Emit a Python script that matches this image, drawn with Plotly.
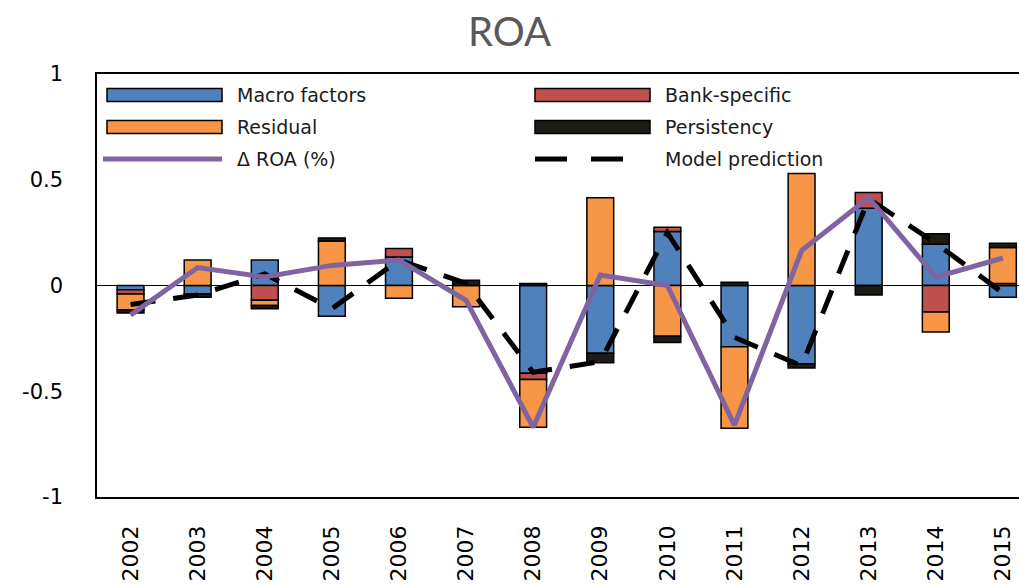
import plotly.graph_objects as go

years = ["2002", "2003", "2004", "2005", "2006", "2007", "2008",
         "2009", "2010", "2011", "2012", "2013", "2014", "2015"]
macro = [-0.02, -0.04, 0.12, -0.145, 0.135, None, -0.415, -0.32, 0.255, -0.29, -0.37, 0.365, 0.195, -0.055]
bank = [-0.02, None, -0.07, None, 0.04, None, -0.03, None, 0.02, None, None, 0.075, -0.125, 0.01]
residual = [-0.075, 0.12, -0.025, 0.21, -0.06, -0.10, -0.225, 0.415, -0.24, -0.385, 0.53, None, -0.095, 0.17]
persistency = [-0.015, -0.015, -0.015, 0.015, None, 0.025, 0.01, -0.045, -0.03, 0.015, -0.02, -0.045, 0.05, 0.02]
droa = [-0.14, 0.085, 0.04, 0.095, 0.12, -0.07, -0.67, 0.05, 0.0, -0.66, 0.165, 0.415, 0.04, 0.13]
model = [-0.09, -0.045, 0.055, -0.11, 0.12, 0.01, -0.41, -0.36, 0.25, -0.245, -0.38, 0.41, 0.2, -0.035]

y_ticks = [1, 0.5, 0, -0.5, -1]
y_tick_text = ["1", "0.5", "0", "-0.5", "-1"]

C_MACRO = "#4F81BD"
C_BANK = "#C0504D"
C_RES = "#F79646"
C_PERS = "#1E1B14"
C_DROA = "#8064A2"
C_MODEL = "#000000"
DASH = "25px,18px"

W, H = 1019, 587
L, T, B = 97, 74, 90
PW = W - L
PH = H - T - B

def px(x):
    return (x - L) / PW

def py(y):
    return (H - B - y) / PH

xs = list(range(len(years)))
fig = go.Figure()
for name, vals, col in [("Macro factors", macro, C_MACRO),
                        ("Bank-specific", bank, C_BANK),
                        ("Residual", residual, C_RES),
                        ("Persistency", persistency, C_PERS)]:
    fig.add_trace(go.Bar(x=xs, y=vals, name=name, marker_color=col,
                         marker_line_color="#000000", marker_line_width=1.5))

fig.add_trace(go.Scatter(x=xs, y=model, name="Model prediction", mode="lines",
                         line=dict(color=C_MODEL, width=5, dash=DASH)))
fig.add_trace(go.Scatter(x=xs, y=droa, name="\u0394 ROA (%)", mode="lines",
                         line=dict(color=C_DROA, width=5)))

# custom legend
shapes = []
annotations = []
legend_font = dict(family="DejaVu Sans", size=19, color="#1a1a1a")
rows = [95, 127, 159]
items = [
    ("rect", C_MACRO, "Macro factors", 0, 0),
    ("rect", C_BANK, "Bank-specific", 0, 1),
    ("rect", C_RES, "Residual", 1, 0),
    ("rect", C_PERS, "Persistency", 1, 1),
    ("line", C_DROA, "\u0394 ROA (%)", 2, 0),
    ("dash", C_MODEL, "Model prediction", 2, 1),
]
cols = [(107, 222, 235), (535, 650, 663)]
for kind, col, label, r, c in items:
    x0, x1, xt = cols[c]
    yc = rows[r]
    if kind == "rect":
        shapes.append(dict(type="rect", xref="paper", yref="paper",
                           x0=px(x0), x1=px(x1), y0=py(yc + 6.5), y1=py(yc - 6.5),
                           fillcolor=col, line=dict(color="#000000", width=1.5)))
    elif kind == "line":
        shapes.append(dict(type="line", xref="paper", yref="paper",
                           x0=px(x0 - 4), x1=px(x1), y0=py(yc), y1=py(yc),
                           line=dict(color=col, width=5)))
    else:
        shapes.append(dict(type="line", xref="paper", yref="paper",
                           x0=px(x0), x1=px(x0 + 88), y0=py(yc), y1=py(yc),
                           line=dict(color=col, width=5, dash="32px,24px")))
    annotations.append(dict(text=label, xref="paper", yref="paper",
                            x=px(xt), y=py(yc), xanchor="left", yanchor="middle",
                            showarrow=False, font=legend_font))

fig.update_layout(
    width=W, height=H,
    margin=dict(l=L, r=0, t=T, b=B, autoexpand=False),
    paper_bgcolor="white", plot_bgcolor="white",
    barmode="relative", bargap=0.6,
    showlegend=False,
    title=dict(text="ROA", x=0.5, xref="container", xanchor="center",
               y=1 - 32 / H, yref="container", yanchor="middle",
               font=dict(family="Lato", size=40, color="#595959")),
    shapes=shapes, annotations=annotations,
)
fig.update_xaxes(range=[-0.5, 13.24], tickmode="array", tickvals=xs, ticktext=years,
                 tickangle=-90, ticks="", ticklabelstandoff=18, automargin=False,
                 tickfont=dict(family="DejaVu Sans", size=22, color="#000000"),
                 showline=True, linecolor="#000000", linewidth=1.5, mirror=True,
                 showgrid=False, zeroline=False)
fig.update_yaxes(range=[-1, 1], tickmode="array", tickvals=y_ticks, ticktext=y_tick_text,
                 ticks="", ticklabelstandoff=28, automargin=False,
                 tickfont=dict(family="DejaVu Sans", size=21, color="#000000"),
                 showline=True, linecolor="#000000", linewidth=1.5,
                 showgrid=False, zeroline=True, zerolinecolor="#000000", zerolinewidth=1.3)

fig.write_html("out.html", config={"displayModeBar": False},
               post_script="document.body.style.margin='0px';")
